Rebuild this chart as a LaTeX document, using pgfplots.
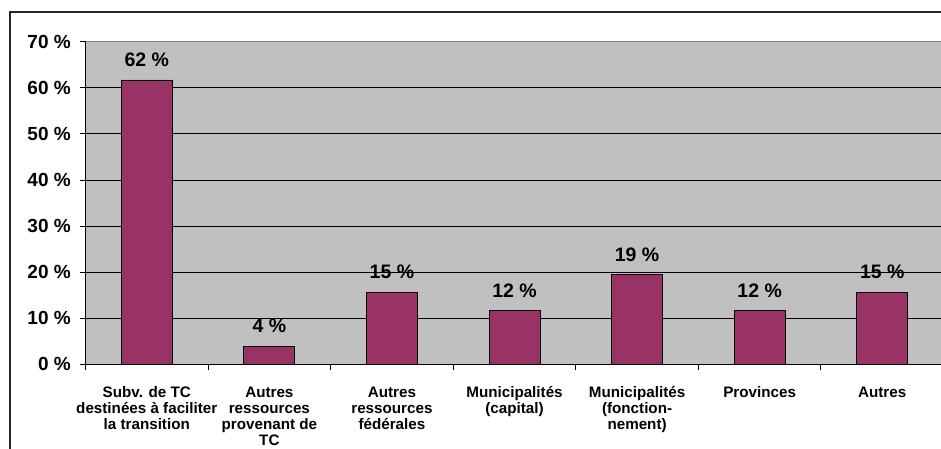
\documentclass[border=0pt]{standalone}
\usepackage{pgfplots}
\pgfplotsset{compat=1.18}
\usepackage{fontspec}
\setmainfont{Liberation Sans}
\definecolor{plotgray}{HTML}{C0C0C0}
\definecolor{barcol}{HTML}{993366}
\definecolor{edgegray}{HTML}{808080}
\begin{document}
\begin{tikzpicture}[x=1pt,y=1pt]
\useasboundingbox (0,0) rectangle (941,448);
\clip (0,0) rectangle (941,448);
\fill[white] (0,0) rectangle (941,448);
\draw[line width=1.3pt, black!85] (10,-30) -- (10,436) -- (970,436);
\begin{axis}[
  at={(85.5pt,83.7pt)}, anchor=south west,
  scale only axis, width=858pt, height=322.6pt,
  xmin=-0.5, xmax=6.5, ymin=0, ymax=70,
  ybar, bar width=51pt,
  axis background/.style={fill=plotgray},
  axis x line*=bottom, axis y line*=left,
  axis line style={black, line width=0.9pt},
  ymajorgrids, major grid style={black, line width=0.9pt},
  ytick={0,10,...,70},
  yticklabels={0 \%,10 \%,20 \%,30 \%,40 \%,50 \%,60 \%,70 \%},
  yticklabel style={font=\bfseries\fontsize{19}{22}\selectfont, anchor=east, inner sep=0pt, xshift=-9pt},
  tick align=outside, major tick length=5.5pt,
  tick style={black, line width=0.9pt},
  xtick={-0.5,0.5,...,6.5}, xticklabels={},
  extra x ticks={0,1,2,3,4,5,6},
  extra x tick style={major tick length=0pt, xmajorgrids=false,
    xticklabel style={font=\bfseries\fontsize{15.2}{16}\selectfont, align=center, anchor=north, inner sep=0pt, yshift=-21.3pt}},
  extra x tick labels={
    {\strut Subv. de TC\\destinées à faciliter\\la transition},
    {\strut Autres\\ressources\\provenant de\\TC},
    {\strut Autres\\ressources\\fédérales},
    {\strut Municipalités\\(capital)},
    {\strut Municipalités\\(fonction-\\nement)},
    {\strut Provinces},
    {\strut Autres}},
  nodes near coords={\pgfplotspointmeta{} \%},
  point meta=explicit symbolic,
  nodes near coords style={font=\bfseries\fontsize{19.5}{22}\selectfont, anchor=base, yshift=13.5pt},
]
\addplot[fill=barcol, draw=black, line width=0.9pt] table[x=x, y=y, meta=lab] {
x y lab
0 61.7 62
1 3.9 4
2 15.6 15
3 11.6 12
4 19.4 19
5 11.6 12
6 15.6 15
};
\draw[edgegray, line width=0.9pt] (axis cs:-0.5,70) -- (axis cs:6.5,70);
\end{axis}
\end{tikzpicture}
\end{document}
